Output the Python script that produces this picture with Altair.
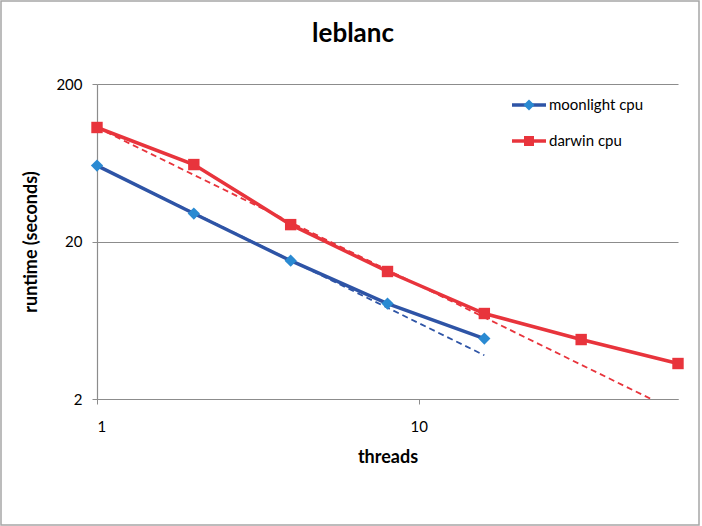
import altair as alt
import pandas as pd

# ---- data ----
moon_threads = [1, 2, 4, 8, 16]
moon_runtime = [60.7, 30.1, 15.1, 8.07, 4.84]
moon_ideal = [60.7, 30.35, 15.18, 7.59, 3.79]

darwin_threads = [1, 2, 4, 8, 16, 32, 64]
darwin_runtime = [105.9, 61.6, 25.6, 12.9, 6.98, 4.77, 3.36]
darwin_ideal = [105.9, 52.95, 26.5, 13.2, 6.6, 3.3, 1.65]

x_ticks = [1, 10]
y_ticks = [2, 20, 200]

FONT = "Lato"
GRID = "#8c8c8c"
BLUE_LINE = "#2e54a6"
BLUE_MARK = "#2a8ad2"
RED = "#e8343c"

W, H = 581, 315

moon = pd.DataFrame({"threads": moon_threads, "runtime": moon_runtime, "ideal": moon_ideal})
darwin = pd.DataFrame({"threads": darwin_threads, "runtime": darwin_runtime, "ideal": darwin_ideal})

xenc = alt.X(
    "threads:Q",
    scale=alt.Scale(type="log", domain=[1, 64], nice=False),
    axis=alt.Axis(values=x_ticks, title="threads", grid=False, format="d",
                  labelPadding=15, titlePadding=14),
)
yenc = alt.Y(
    "runtime:Q",
    scale=alt.Scale(type="log", domain=[2, 200], nice=False),
    axis=alt.Axis(values=y_ticks, title="runtime (seconds)", grid=True, format="d",
                  labelPadding=10, titlePadding=15),
)
yideal = alt.Y("ideal:Q", scale=alt.Scale(type="log", domain=[2, 200], nice=False))

moon_ideal_l = alt.Chart(moon).mark_line(color=BLUE_LINE, strokeWidth=1.8, strokeDash=[6, 4], clip=True).encode(x=xenc, y=yideal)
darwin_ideal_l = alt.Chart(darwin).mark_line(color=RED, strokeWidth=1.8, strokeDash=[6, 4], clip=True).encode(x=xenc, y=yideal)

moon_line = alt.Chart(moon).mark_line(color=BLUE_LINE, strokeWidth=3.5).encode(x=xenc, y=yenc)
moon_pts = alt.Chart(moon).mark_point(shape="diamond", filled=True, color=BLUE_MARK, size=150, opacity=1).encode(x=xenc, y=yenc)
darwin_line = alt.Chart(darwin).mark_line(color=RED, strokeWidth=3.5).encode(x=xenc, y=yenc)
darwin_pts = alt.Chart(darwin).mark_point(shape="square", filled=True, color=RED, size=130, opacity=1).encode(x=xenc, y=yenc)

# ---- manual legend (line + marker + label) ----
leg_moon = pd.DataFrame({"label": ["moonlight cpu"]})
leg_darwin = pd.DataFrame({"label": ["darwin cpu"]})
title_df = pd.DataFrame({"label": ["leblanc"]})

def legend_entry(df, ypos, line_color, mark_color, shape, size):
    rule = alt.Chart(df).mark_rule(color=line_color, strokeWidth=3.5).encode(
        x=alt.value(415), x2=alt.value(449), y=alt.value(ypos))
    pt = alt.Chart(df).mark_point(shape=shape, filled=True, color=mark_color, size=size, opacity=1).encode(
        x=alt.value(432), y=alt.value(ypos))
    txt = alt.Chart(df).mark_text(align="left", baseline="middle", font=FONT, fontSize=15, color="#000").encode(
        x=alt.value(452), y=alt.value(ypos), text="label:N")
    return [rule, pt, txt]

legend_layers = legend_entry(leg_moon, 21, BLUE_LINE, BLUE_MARK, "diamond", 120) + \
    legend_entry(leg_darwin, 57, RED, RED, "square", 100)

title_mark = alt.Chart(title_df).mark_text(
    align="center", baseline="alphabetic", font=FONT, fontSize=26, fontWeight="bold", color="#000"
).encode(x=alt.value(256), y=alt.value(-42), text="label:N")

frame = alt.Chart(leg_moon).mark_rect(fill=None, stroke="#a6a6a6", strokeWidth=1.5).encode(
    x=alt.value(-96), x2=alt.value(602), y=alt.value(-83), y2=alt.value(441))

chart = alt.layer(
    frame, title_mark, moon_ideal_l, darwin_ideal_l, moon_line, darwin_line, moon_pts, darwin_pts, *legend_layers
).properties(
    width=W, height=H,
    autosize=alt.AutoSizeParams(type="none"),
    padding={"left": 97, "top": 84, "right": 24, "bottom": 127},
).configure(background="white").configure_view(stroke=None).configure_axis(
    domainColor=GRID, tickColor=GRID, gridColor=GRID, domainWidth=1.2, gridWidth=1.2,
    tickSize=5, labelFont=FONT, labelFontSize=15, labelColor="#000",
    titleFont=FONT, titleFontSize=18, titleFontWeight="bold", titleColor="#000",
)

chart.save("out.html", embed_options={"renderer": "svg", "actions": False})
